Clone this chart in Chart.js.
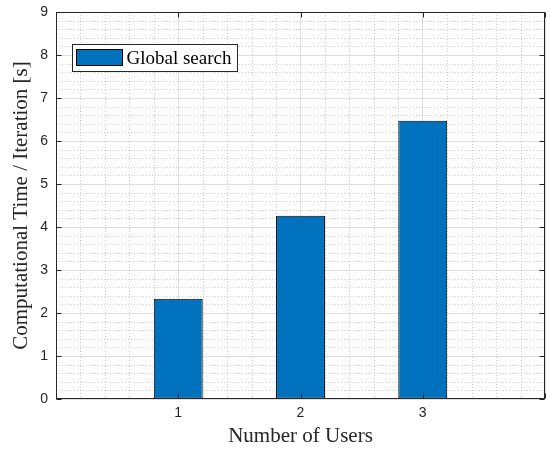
<!DOCTYPE html>
<html>
<head>
<meta charset="utf-8">
<script src="https://cdn.jsdelivr.net/npm/chart.js@4/dist/chart.umd.min.js"></script>
<style>
  html, body { margin: 0; padding: 0; background: #fff; }
  #wrap { width: 550px; height: 449px; }
</style>
</head>
<body>
<div id="wrap"><canvas id="chart" width="550" height="449"></canvas></div>
<script>
// Computational time per iteration for the global search, by number of users
const users = [1, 2, 3];
const globalSearchTime = [2.33, 4.26, 6.47];
const seriesLabel = 'Global search';
const xTitle = 'Number of Users';
const yTitle = 'Computational Time / Iteration [s]';
const xRange = [0, 4];
const yRange = [0, 9];

const AXIS_COLOR = '#262626';
const BAR_COLOR = '#0072BD';
const MINOR_DIV = 5;

// MATLAB-style axes: dotted minor grid, boxed axes with inward ticks, legend inside
const matlabAxes = {
  id: 'matlabAxes',
  beforeDatasetsDraw(chart) {
    const { ctx, chartArea: a, scales: { x, y } } = chart;
    ctx.save();
    ctx.strokeStyle = 'rgba(38,38,38,0.22)';
    ctx.lineWidth = 1;
    ctx.setLineDash([1, 2]);
    const nx = (x.max - x.min) * MINOR_DIV;
    for (let i = 1; i < nx; i++) {
      if (i % MINOR_DIV === 0) continue;
      const px = Math.round(x.getPixelForValue(x.min + i / MINOR_DIV)) + 0.5;
      ctx.beginPath(); ctx.moveTo(px, a.top); ctx.lineTo(px, a.bottom); ctx.stroke();
    }
    const ny = (y.max - y.min) * MINOR_DIV;
    for (let i = 1; i < ny; i++) {
      if (i % MINOR_DIV === 0) continue;
      const py = Math.round(y.getPixelForValue(y.min + i / MINOR_DIV)) + 0.5;
      ctx.beginPath(); ctx.moveTo(a.left, py); ctx.lineTo(a.right, py); ctx.stroke();
    }
    ctx.restore();
  },
  afterDatasetsDraw(chart) {
    const { ctx, chartArea: a, scales: { x, y } } = chart;
    ctx.save();
    ctx.strokeStyle = AXIS_COLOR;
    ctx.lineWidth = 1;
    const L = Math.round(a.left) + 0.5, R = Math.round(a.right) - 0.5;
    const T = Math.round(a.top) + 0.5, B = Math.round(a.bottom) - 0.5;
    ctx.strokeRect(L, T, R - L, B - T);
    const tl = 5;
    x.ticks.forEach(t => {
      const px = Math.round(x.getPixelForValue(t.value)) + 0.5;
      ctx.beginPath();
      ctx.moveTo(px, B); ctx.lineTo(px, B - tl);
      ctx.moveTo(px, T); ctx.lineTo(px, T + tl);
      ctx.stroke();
    });
    y.ticks.forEach(t => {
      const py = Math.round(y.getPixelForValue(t.value)) + 0.5;
      ctx.beginPath();
      ctx.moveTo(L, py); ctx.lineTo(L + tl, py);
      ctx.moveTo(R, py); ctx.lineTo(R - tl, py);
      ctx.stroke();
    });

    // legend box
    const ds = chart.data.datasets[0];
    const lx = Math.round(a.left) + 16.5, ly = Math.round(a.top) + 32.5;
    const lw = 165, lh = 27;
    ctx.fillStyle = '#fff';
    ctx.fillRect(lx, ly, lw, lh);
    ctx.strokeStyle = AXIS_COLOR;
    ctx.strokeRect(lx, ly, lw, lh);
    ctx.fillStyle = ds.backgroundColor;
    ctx.fillRect(lx + 4, ly + 5, 46, 16);
    ctx.strokeStyle = '#000';
    ctx.strokeRect(lx + 4, ly + 5, 46, 16);
    ctx.fillStyle = '#000';
    ctx.font = '19px "Liberation Serif"';
    ctx.textBaseline = 'middle';
    ctx.textAlign = 'left';
    ctx.fillText(ds.label, lx + 54, ly + lh / 2 + 1);
    ctx.restore();
  }
};

new Chart(document.getElementById('chart'), {
  type: 'bar',
  data: {
    datasets: [{
      label: seriesLabel,
      data: users.map((u, i) => ({ x: u, y: globalSearchTime[i] })),
      backgroundColor: BAR_COLOR,
      borderColor: '#000',
      borderWidth: 1,
      borderSkipped: false,
      barPercentage: 0.4,
      categoryPercentage: 1
    }]
  },
  options: {
    responsive: false,
    animation: false,
    devicePixelRatio: 1,
    layout: { padding: { top: 12, right: 5, left: 0, bottom: 0 } },
    plugins: { legend: { display: false }, tooltip: { enabled: false } },
    scales: {
      x: {
        type: 'linear',
        offset: false,
        min: xRange[0],
        max: xRange[1],
        afterFit(scale) {
          scale.height = 50;
          scale.paddingLeft = 0;
          scale.paddingRight = 0;
        },
        ticks: {
          stepSize: 1,
          padding: 6,
          color: AXIS_COLOR,
          font: { family: '"Liberation Sans", Arial, sans-serif', size: 14 },
          callback: v => (v > xRange[0] && v < xRange[1]) ? String(v) : ''
        },
        grid: { color: '#dfdfdf', drawTicks: false, offset: false },
        border: { display: false },
        title: {
          display: true,
          text: xTitle,
          color: AXIS_COLOR,
          font: { family: '"Liberation Serif", serif', size: 21 },
          padding: { top: 0, bottom: 0 }
        }
      },
      y: {
        min: yRange[0],
        max: yRange[1],
        afterFit(scale) {
          scale.width = 56;
          scale.paddingTop = 0;
          scale.paddingBottom = 0;
        },
        ticks: {
          stepSize: 1,
          padding: 8,
          color: AXIS_COLOR,
          font: { family: '"Liberation Sans", Arial, sans-serif', size: 14 }
        },
        grid: { color: '#dfdfdf', drawTicks: false },
        border: { display: false },
        title: {
          display: true,
          text: yTitle,
          color: AXIS_COLOR,
          font: { family: '"Liberation Serif", serif', size: 21 },
          padding: { top: 9, bottom: 0 }
        }
      }
    }
  },
  plugins: [matlabAxes]
});
</script>
</body>
</html>
